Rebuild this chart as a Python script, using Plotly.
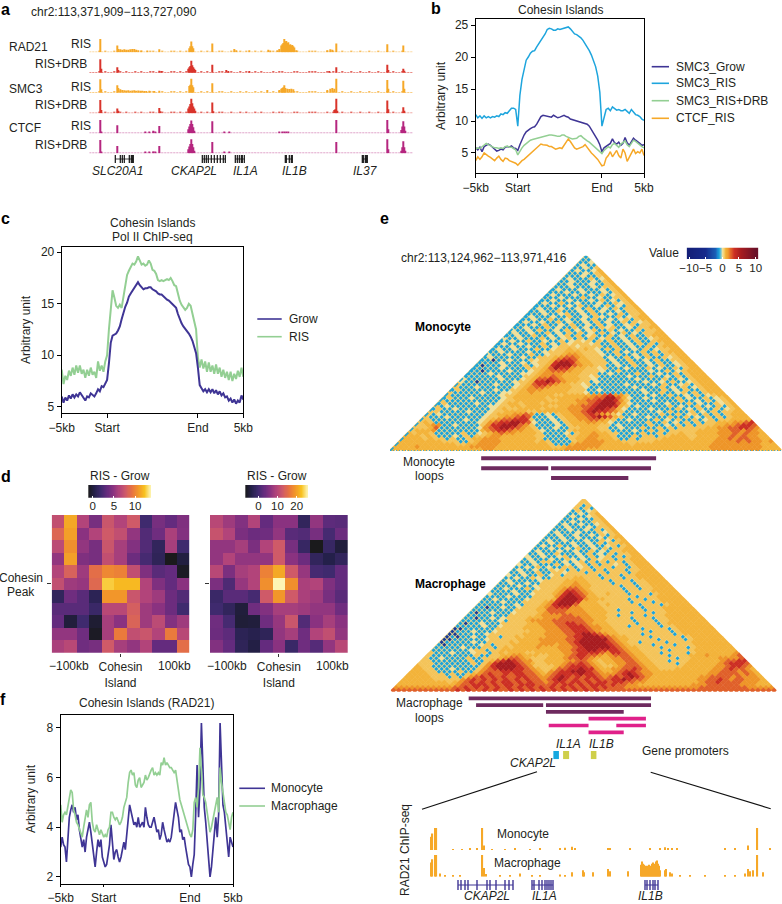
import numpy as np
import plotly.graph_objects as go

W, H = 782, 904
FONT = "Liberation Sans"
INK = "#231f20"
DARK = "#3f3595"
BLUE = "#1ea5dd"
GREEN = "#93cf93"
ORANGE = "#f6a828"
RED = "#d9342b"
MAGENTA = "#b5267f"

# ---------- panel b ----------
B_SMC3_GROW = [5.8,5.5,5.9,5.2,6.0,6.2,6.4,6.2,5.9,5.5,5.3,5.4,5.6,5.5,5.9,6.0,5.9,6.1,5.8,5.7,5.4,
 6.3,7.2,7.8,8.3,8.6,8.8,9.0,9.1,9.5,10.1,10.7,10.9,10.8,10.7,10.6,10.6,10.9,10.7,10.5,10.6,10.8,10.9,10.7,10.6,10.3,10.2,10.1,9.9,9.8,9.7,9.6,9.6,9.5,9.2,8.7,8.1,7.6,7.0,6.3,5.2,
 5.8,6.0,6.2,6.5,7.2,6.6,6.4,6.7,6.2,6.5,7.4,6.6,6.2,6.8,7.3,7.0,6.8,6.5,6.2,6.3]
B_SMC3_RIS = [11.0,10.5,10.8,10.4,10.8,10.5,10.7,10.5,10.7,10.6,10.8,10.7,11.1,11.0,11.3,11.2,11.6,12.0,12.0,11.8,9.2,
 14.0,16.5,18.2,19.5,20.0,20.6,20.9,21.0,21.6,22.1,22.5,22.9,23.6,24.3,24.5,24.4,24.2,24.2,24.4,24.3,24.4,24.4,24.5,24.7,24.4,23.9,23.6,23.5,23.3,23.0,22.6,22.1,21.7,21.0,20.3,19.5,18.5,17.0,14.5,9.2,
 10.5,11.8,12.0,11.6,12.2,12.0,11.7,11.8,11.6,11.6,11.8,11.5,11.2,11.8,11.4,11.0,10.9,10.7,10.3,10.1]
B_SMC3_DRB = [5.6,5.8,5.7,6.0,6.3,6.5,6.3,6.1,5.9,5.8,5.8,5.7,5.8,5.7,6.0,6.1,5.9,5.9,5.7,5.5,4.7,
 5.3,5.8,6.2,6.5,6.8,7.0,7.1,7.2,7.3,7.4,7.5,7.6,7.7,7.7,7.8,7.8,7.8,7.7,7.6,7.6,7.8,7.8,7.6,7.4,7.3,7.2,7.2,7.3,7.6,7.7,7.4,7.1,6.9,6.7,6.4,6.1,5.8,5.5,5.1,4.9,
 5.4,5.7,6.0,5.8,6.3,6.5,6.2,5.9,6.4,6.6,6.9,6.3,6.0,6.5,7.0,6.8,6.5,6.2,6.0,5.8]
B_CTCF_RIS = [3.8,4.4,4.0,4.4,5.0,4.7,4.5,4.3,4.0,3.8,4.2,4.5,4.0,3.7,4.2,4.1,3.8,3.7,3.6,3.4,3.1,
 3.5,3.8,4.0,4.3,4.6,4.9,5.2,5.5,5.8,6.1,6.4,6.3,6.3,6.2,6.0,6.0,5.8,5.6,5.7,5.8,5.7,6.2,6.9,7.2,6.8,6.3,5.8,5.6,5.7,5.9,6.0,6.3,5.8,5.4,5.0,4.7,4.4,4.0,3.5,3.0,
 3.1,4.2,4.6,5.2,4.4,5.0,5.4,4.6,4.2,5.6,5.0,3.7,4.4,5.0,5.6,4.9,5.2,5.0,5.6,4.6]

# ---------- panel c ----------
C_GROW = [6.0,5.4,5.9,5.6,6.1,5.8,6.2,5.9,6.2,6.0,6.4,6.1,5.8,5.6,6.0,5.9,6.3,6.1,6.0,6.3,6.7,6.5,7.0,6.9,7.3,
 7.6,9.2,11.2,11.9,12.0,12.1,12.4,12.8,13.5,14.2,14.7,15.1,15.7,16.0,16.3,16.5,16.9,17.1,16.8,16.6,16.4,16.5,16.5,16.6,16.6,16.4,16.3,16.2,16.0,15.9,15.9,15.7,15.6,15.4,15.3,15.1,14.9,14.8,14.6,14.0,13.5,13.1,12.8,12.6,12.4,12.1,11.8,11.4,10.8,10.2,8.8,7.1,
 6.8,6.5,6.7,6.4,6.7,6.4,6.7,6.3,6.6,6.2,6.5,6.1,6.3,5.9,6.0,5.6,5.8,5.4,5.7,5.3,5.6,5.4,6.1,5.7]
C_RIS = [8.6,7.2,8.0,7.6,8.5,8.0,8.8,8.1,9.0,8.3,9.0,8.2,8.6,7.8,8.6,8.0,8.8,8.1,8.4,7.8,9.4,8.5,9.0,8.4,9.4,
 10.0,12.5,14.5,16.3,15.6,14.8,14.6,14.9,14.6,15.6,16.7,17.8,18.2,18.6,18.9,18.8,19.1,19.6,19.2,18.8,18.9,18.7,18.8,19.2,18.9,18.3,18.2,17.9,17.3,17.2,17.3,17.2,17.3,17.4,17.3,17.5,17.2,16.8,16.7,16.0,15.3,14.9,14.7,14.4,14.6,15.0,14.8,14.0,13.5,12.5,9.8,8.8,
 9.6,8.7,9.4,8.4,9.3,8.4,9.0,8.2,9.1,8.2,8.8,7.9,8.6,7.8,8.4,7.6,8.4,7.5,8.2,7.7,8.5,7.9,8.8,7.9]

# ---------- panel f ----------
F_MONO = [3.2,3.6,3.3,3.2,2.6,3.5,4.4,4.7,4.9,4.6,4.8,4.3,4.5,3.9,3.6,3.2,3.5,3.0,3.6,3.9,4.2,3.8,3.3,3.0,2.4,3.0,3.5,3.2,3.5,2.8,2.6,2.4,2.5,2.9,3.3,4.1,3.5,2.7,3.0,3.1,2.8,2.6,2.8,3.1,3.4,3.1,3.9,4.3,4.9,4.6,4.3,4.1,4.2,4.0,4.4,4.0,4.1,4.2,4.0,4.8,4.4,4.1,4.0,
 4.0,4.2,4.4,4.1,3.8,3.9,3.5,3.7,4.2,3.9,3.6,3.4,3.5,3.4,3.6,4.0,4.6,5.0,4.7,4.4,3.8,3.9,3.5,3.6,3.2,2.8,2.5,2.4,2.0,2.5,2.9,4.5,6.5,4.4,5.6,8.2,6.0,4.8,4.2,3.5,2.7,2.0,2.4,3.2,3.9,4.4,3.6,4.5,8.2,6.5,4.9,4.6,3.9,3.3,2.8,3.6,3.4,3.2]
F_MACRO = [4.9,4.2,4.5,4.6,4.5,4.9,5.3,5.5,5.4,4.7,4.5,4.2,4.1,3.9,3.7,3.6,4.0,4.4,4.7,4.4,4.9,5.0,4.2,3.9,3.8,4.1,3.9,3.7,3.9,3.7,3.6,3.7,3.6,3.9,4.0,4.6,4.6,4.4,4.3,4.4,4.2,4.1,4.2,4.4,4.8,5.0,5.2,5.8,6.2,6.3,6.1,6.2,5.7,5.6,5.9,6.0,5.6,5.7,5.8,6.1,5.9,6.0,6.2,6.3,6.4,6.1,6.2,6.1,6.2,6.1,6.6,6.5,6.8,6.5,6.6,6.5,6.4,6.4,6.3,6.2,6.3,5.9,5.4,5.1,4.9,4.7,4.5,4.2,4.0,3.8,3.7,3.6,3.9,5.0,5.2,4.8,5.6,7.2,6.2,5.3,5.2,5.0,4.6,4.2,3.8,4.0,4.3,4.6,5.0,5.2,4.6,6.4,5.8,5.4,5.1,4.6,4.5,4.1,3.9,4.4,4.6]

# ---------- panel d ----------
D_LEFT = [
 [.55,.84,.50,.35,.58,.50,.60,.20,.35,.30,.37],
 [.65,.82,.40,.50,.60,.55,.42,.25,.33,.48,.38],
 [.53,.78,.42,.35,.58,.47,.38,.25,.15,.47,.20],
 [.42,.82,.37,.35,.55,.47,.32,.22,.14,.00,.08],
 [.50,.63,.45,.68,.76,.74,.55,.37,.27,.30,.02],
 [.55,.45,.43,.66,.92,.88,.88,.50,.37,.30,.40],
 [.15,.33,.27,.13,.80,.80,.58,.50,.45,.32,.25],
 [.27,.27,.27,.18,.52,.52,.62,.45,.40,.32,.20],
 [.30,.07,.20,.05,.47,.40,.64,.45,.53,.38,.45],
 [.42,.42,.33,.02,.47,.72,.55,.58,.50,.72,.52],
 [.48,.52,.33,.35,.60,.47,.42,.50,.30,.30,.68]]
D_RIGHT = [
 [.52,.45,.38,.50,.30,.40,.40,.15,.42,.28,.27],
 [.57,.50,.36,.32,.33,.42,.27,.25,.35,.22,.32],
 [.42,.42,.47,.36,.50,.60,.35,.17,.00,.17,.07],
 [.42,.50,.42,.42,.42,.60,.40,.32,.15,.10,.15],
 [.52,.36,.47,.50,.74,.84,.60,.43,.22,.20,.30],
 [.36,.24,.43,.50,.78,1.0,.78,.48,.50,.37,.30],
 [.18,.27,.27,.22,.60,.80,.60,.48,.45,.35,.27],
 [.20,.15,.07,.33,.38,.47,.47,.45,.42,.42,.33],
 [.33,.22,.06,.07,.33,.43,.58,.25,.40,.47,.40],
 [.32,.28,.13,.11,.14,.42,.47,.33,.50,.55,.42],
 [.38,.30,.14,.09,.30,.40,.18,.33,.26,.42,.52]]
D_SCALE = [[0,"#1a1a1c"],[.1,"#24204a"],[.2,"#3f2a6e"],[.3,"#642b7e"],[.4,"#8a3280"],[.5,"#b2447a"],
           [.6,"#cf5a68"],[.7,"#e87340"],[.8,"#f2962a"],[.9,"#f8c220"],[1,"#fdf5b5"]]

# ---------- panel e: contact maps, levels 0..9 per lattice cell, apex row first ----------
MONO_ROWS = ["1","11","113","1311","11314","131135","1113145","11131145","131114135","1131113145",
"1131113114 5","1113111314 45","1311131113 145","1113113111 3145","1311131131 41345","1113111411 311445",
"1131131113 1413145","1311411311 13114345","1113113141 131413145","1311131131 4113141445","1131141113 14131131445",
"1113113411 314113141445","1311131141 1314311413 455","1131141131 1314113134 1455","1311311413 1131413114 14345",
"1113141131 4113141311 341445","1131114131 1413114341 1314455","3113141131 4131341141 31141445","1311311413 1414131413 141314455",
"1131141131 3414134114 1314114555","3113111413 1341414134 1131411345 5","1131141131 1413434141 4113141145 55",
"1311311141 3143444341 1411314141 455","1113113114 1344434444 1141131141 4555","1311311141 1344544543 1414113141 34455",
"1131111311 3444555444 3114131141 414555","3111311141 1344566544 4311411314 1414455","1311111311 4445677654 4413114131 41143455",
"1101131114 3445788755 4441311411 314114455","1111311131 3445899865 5444131141 1314113455","1011131114 1345899976 5544113114 1131411345 5",
"1111131111 4445798865 5443411131 1141311414 55","1101111311 1345677765 5444311411 1113114134 555","1111311111 3345666655 5444113111 1411131141 4555",
"1111113111 1445667655 5443411111 3111411314 14555","3111111311 1345778765 5544311111 1131111411 314555","3110111111 3445889876 5544131111 1111311314 1134555",
"4111111311 1345788765 5443411111 1311113141 13414555","4111311111 1345677655 5544311111 1113111141 314134555","1411111131 1445666555 5544411311 1111131114 1314114555",
"4111113111 3345565555 5544431111 1111113114 1134141455 5","4111111111 3445555555 4455555667 8664111131 1411314134 55",
"1411131111 1345555554 5555556677 9975311311 1114131141 345","4111111111 1344555555 4455566778 9986411113 1111411314 1345",
"1411111311 1345545554 5555556678 9997531111 1131114131 14345","4131111111 3344554555 5445566778 9998541311 1114131141 314145",
"1411311111 1345445555 4555566678 9987531111 3111141314 1141345","4411111311 1344555544 5555556678 9887641111 1131411141 31414455",
"4131111111 1345556676 1131455667 8765431131 1114114134 141414555","4111311111 1344566787 1113145566 7898754111 1311141141 3141414555",
"4411111131 1345677888 4111314556 6776541131 1114131411 4134144555 5","4541111111 1346788998 7311131455 5665531111 1141141314 1414455566 78",
"4456611311 1146889997 6411113145 5555441311 1114113141 4144455667 887","4445711111 1136789987 6541113114 4555441131 1141141414 4444556677 8876",
"4555611111 1115678876 6554311114 5555544111 1311414144 4445555667 76765","5455411111 4113456766 5555411113 1455655441 1114114144 5445555666 767665",
"5554541113 1414456655 5555441111 4455665541 1141441445 5544555566 7676655","5555454414 1145566655 5555541111 1455665554 1141444455 5554555566 76776655",
"5555555544 4114566665 5555545411 1145666655 5444444555 5555555566 667676656","5555555555 5445566665 5555555541 1156666655 5554555555 5555555566 6666666555",
"5555655555 5555666665 5555555554 4566666655 5555555555 5555555566 6666666655 5","5555555555 5555555665 5555555555 5566665555 5555555555 5555555556 6666666655 55"]
MACRO_ROWS = ["4","44","414","4141","14134","113145","1311345","11131145","113111445","1311311345",
"1131113144 5","1113113141 45","1311131114 345","1131131131 4145","1113113111 31455","1311311131 143145",
"1131113113 1414455","1311411311 31134145","1113113141 131414455","1311131131 1413144555","1131141113 14131414455",
"3113113411 314134141455","1311131143 1314344144 555","1131441131 3414141441 4555","3113111413 1341414434 14555",
"1131413114 4134144414 414555","1311311434 1414414144 4144555","1131141144 3444144414 44145555","3113114134 1444444144 414455555",
"1131143114 4445544414 4414455555","1311111344 4455554444 1444144555 5","1131131144 4455655444 4144414455 55",
"1111311344 4455665544 4441441445 555","1131114134 4456776544 4444144144 5555","1111311144 4456887654 4444414444 55555",
"3111131134 4456898765 4454441444 145555","1111311114 4446899875 5444444414 4455555","1131111134 4445899986 5554444144 14455555",
"1111311144 4456899985 5544444414 441455555","1111111314 4456899975 5554544444 1444145555","1101131134 4456788866 5555444444 4144455555 5",
"1111111144 4455777766 6555544144 4414445555 55","1011311134 4445677766 6655554444 1444144555 555","1111111144 4445666677 6665554414 4441444555 5555",
"1101131344 4455566677 7766555444 4144414455 55555","1111111314 4456666777 7776655444 4414441445 555555","1011311144 4445566677 8877655544 4441444145 5555555",
"1111131134 4445556667 7888766554 4414444414 45555555","0011111144 4445555666 7788876655 4444414444 145555555","0111311134 4444455566 6778887655 5444444144 4145555555",
"0011111344 4444555566 6677899876 5544441444 4414555555 5","0101131144 1445455556 6667889998 7655444414 4444145555 55",
"0011111134 4444555566 6667789999 9765544444 1444414555 555","0111113114 4445455556 6666789999 9876544144 4414444555 5555",
"1011111134 1444555556 6656678999 9987654444 1444144455 55555","1111131114 4145455556 5556667899 9998765544 4414444145 555555",
"1111111344 1445555555 5555667889 9888876554 4444144445 5555555","4111311134 4145455544 5555566788 8876887655 4441444414 55555556",
"4111111114 1144556655 5445556788 7765677765 5444414445 556555567","4113111141 1444567765 4445556778 7655566776 5544444144 5555566667",
"4411111114 1145789876 6445555667 7654556677 6554441444 5555556778 8","4441111111 4146899987 6544555677 8765455667 7655444414 5555556788 87",
"5441111111 1146899998 7644445678 8876544567 7765544444 5555556678 876","5544111311 1146789998 8765445778 8988655667 7876554445 5555556678 7765",
"5554411114 1146777888 8776546788 9998765567 8876655555 5555556677 76765","5555444141 1456787787 8877656788 8898876667 8987665555 5555556677 776765",
"5555544414 1467878787 7887766789 8787887678 7898765555 5555566777 7676665","5555554444 4678787878 7878776789 8787878778 8987765555 5555566778 76776665",
"5555555554 5678787878 8787877678 8788787887 8877665555 5555556778 777766655","5555555555 5677888787 8878887778 7887878887 8776655555 5555566677 7777666555",
"6666666666 6778787878 7878787878 7878787878 7776666666 6666666777 7777776666 6","7777777777 7787877878 7787878787 8787878787 7777777777 7777777777 7777777777 77"]
LEVEL_VALUES = [-4, -1, -.3, 0, .7, 1, 1.8, 2.6, 3.6, 5.5]
PALE_UNDER_SPECK = .25
E_STOPS = [(-10,"#141f78"),(-5,"#162a8c"),(-2,"#1a5fb8"),(-1,"#1ba3dd"),(-.3,"#7fc8cf"),(0,"#f0e09c"),(.5,"#f5d070"),
           (1,"#f3b33a"),(1.8,"#ee9528"),(2.6,"#e0602a"),(3.6,"#cc2f24"),(5.5,"#a81c20"),(10,"#6a1028")]
E_SCALE = [[(v+10)/20, c] for v, c in E_STOPS]

# loops (kb from window start): start, end, row
MONO_LOOP_START = [197,197,348,348]
MONO_LOOP_END   = [575,342,564,515]
MONO_LOOP_ROW   = [0,1,1,2]
MACRO_LOOP_START = [170,186,337,337]
MACRO_LOOP_END   = [564,331,564,505]
MACRO_LOOP_ROW   = [0,1,1,2]
MACRO_PINK_START = [429,343,489,429]
MACRO_PINK_END   = [553,429,553,505]
MACRO_PINK_ROW   = [3,4,4,5]
PROMOTER_START = [353,374,434]
PROMOTER_END   = [365,387,446]
PROMOTER_COLOR = ["#16a8e0","#cfcf4a","#cfcf4a"]

# ---------- panel a tracks: position (bin), height ----------
BG_COHESIN = [.03,.05,.02,.06,.03,.08,.04,.03,.07,.05,.06,.04,.08,.05,.03,.06,.04,.07,.05,.03,.06,.08,.05,.04,.07,.03,.05,.09,.06,.04,.07,.03,.06,.05,.08,.04,.03,.06,.05,.07,.04,.03,.05,.08,.06,.03,.04,.07,.05,.03,.06,.04,.08,.05,.03,.07,.04,.06,.03,.05,.04,.07,.03,.06,.08,.04,.05,.03,.07,.06,.04,.03,.05,.08,.06,.09,.04,.05,.03,.07,.04,.06,.03,.05,.07,.04,.03,.06,.05,.04,.07,.03,.05,.06,.04,.03,.07,.05,.04,.06,.03,.08,.05,.04,.06,.03,.05,.04]
BG_CTCF = [.02,.03,.01,.03,.02,.04,.02,.01,.03,.02,.03,.02,.03,.02,.01,.03,.02,.04,.03,.02,.05,.06,.05,.03,.02,.01,.02,.03,.02,.01,.02,.01,.03,.02,.01,.02,.01,.03,.02,.01,.02,.01,.02,.01,.02,.01,.01,.02,.01,.02,.01,.02,.01,.01,.02,.01,.02,.01,.02,.01,.01,.03,.02,.03,.02,.03,.04,.02,.03,.02,.03,.02,.01,.02,.03,.04,.02,.03,.02,.03,.02,.03,.02,.03,.02,.02,.03,.02,.03,.02,.02,.03,.02,.03,.02,.03,.02,.02,.03,.02,.03,.02,.03,.02,.02,.02,.02,.02]
BG_POS = list(range(1, 324, 3))

A1_POS = [11,28,29,31,33,35,37,39,41,43,45,47,49,52,58,70,100,101,102,103,104,123,145,147,160,179,181,188,190,192,193,194,195,196,197,198,199,200,201,202,203,204,205,207,238,241,243,247,298,314]
A1_H   = [1.0,.5,.25,.22,.2,.22,.2,.2,.22,.24,.25,.2,.15,.1,.1,.22,.3,.45,.8,.45,.3,.65,.25,.15,.15,.2,.12,.15,.25,.5,.6,.7,1.0,.8,.85,.7,.75,.55,.6,.5,.55,.45,.35,.15,.15,.22,.2,.65,.6,.5]
A2_POS = [11,12,28,29,70,72,99,100,101,102,103,104,105,106,123,137,139,160,240,247,298,299,314,315]
A2_H   = [1.0,.3,.4,.2,.15,.12,.3,.4,.5,.9,.55,.4,.3,.2,.6,.2,.1,.08,.1,.4,.6,.2,.3,.15]
A3_POS = [11,12,28,29,31,33,35,37,39,41,43,45,47,49,51,53,55,57,60,65,70,100,101,102,103,104,123,178,190,192,193,194,195,196,198,200,202,204,238,241,243,245,247,298,299,314,315]
A3_H   = [1.0,.25,.55,.35,.25,.2,.18,.16,.18,.15,.16,.18,.15,.17,.14,.15,.13,.12,.14,.12,.15,.5,.6,1.05,.55,.4,.7,.2,.2,.3,.35,.4,.55,.35,.3,.28,.3,.25,.2,.3,.35,.3,1.05,.95,.3,.9,.3]
A4_POS = [11,12,28,29,70,71,99,100,101,102,103,104,105,106,123,124,245,246,247,248,298,299,314,315]
A4_H   = [1.0,.25,.35,.2,.4,.15,.35,.5,.7,1.1,.75,.5,.35,.2,.8,.15,.25,.3,1.1,.2,.95,.3,.45,.2]
A5_POS = [11,12,28,56,60,64,66,70,99,100,101,102,103,104,105,123,135,140,190,193,195,197,199,247,298,299,312,313,314,315,316]
A5_H   = [1.0,.1,.6,.08,.1,.2,.12,.55,.3,.5,.7,.95,.7,.45,.2,.9,.12,.08,.06,.09,.1,.09,.06,1.0,1.0,.3,.25,.5,.9,.5,.2]
A6_POS = [11,12,28,56,60,64,66,70,99,100,101,102,103,104,105,123,135,140,247,298,299,312,313,314,315,316]
A6_H   = [1.0,.1,.55,.08,.08,.1,.1,.55,.3,.5,.7,1.05,.7,.45,.2,.85,.12,.08,.85,1.05,.3,.2,.45,.9,.45,.2]

A_GENE_NAMES = ["SLC20A1","CKAP2L","IL1A","IL1B","IL37"]
A_GENE_EXONS = [[26,31,33,35,40,42,43,44],[113,115,117,119,122,125,128,131,134,136],[146,148,150,152,153,155],[196,197,200,202,203],[273,274,276,277,278]]

# panel e ChIP tracks
E_MONO_POS = [16.5,17.5,20.5,21.5,38,47,55,62,67.5,69,77,90,100,115,125,145,150,157,160,193,195,215,235,245,250,253,257,262,310,320,333,342.5,355]
E_MONO_H   = [.6,.75,1,1,.04,.04,.05,.05,1,.2,.04,.04,.05,.04,.05,.05,.1,.15,.08,.06,.06,.05,.05,.08,.13,.08,.08,.05,.05,.05,.2,1,.05]
E_MACRO_POS = [16.5,17.5,20.5,21.5,25,30,38,45,67.5,69,71,85,95,105,117,125,145,150,157,168,169,178,193,195,213,226,227,228,229,230,231,232,233,234,235,236,237,238,239,240,241,242,243,244,245,250,251,255,257,265,275,290,310,320,330,333,335,338,342.5,348]
E_MACRO_H   = [.65,.8,1,1,.15,.05,.05,.08,1,.4,.12,.05,.05,.15,.05,.08,.1,.08,.2,.3,.2,.2,.35,.25,.25,.55,.7,.6,.55,.5,.45,.5,.45,.55,.5,.45,.6,.65,.55,.6,.7,.75,.6,.5,.3,.3,.35,.2,.15,.05,.06,.05,.06,.08,.15,.35,.25,.3,1,.2]
E_GENE_EXONS = [[43,46,50,53,62,72,75,81,90,94,98],[117,119,124,127,130,132,134,136,138],[230,232,235,238,240,243]]

# ---------- figure helpers ----------
traces, annots, shapes, layout_axes = [], [], [], {}
next_axis = [2]

def axes(l, r, t, b, xr, yr, xopts=None, yopts=None):
    n = next_axis[0]; next_axis[0] += 1
    base = dict(visible=False, fixedrange=True, automargin=False)
    xo = dict(base, domain=[l/W, r/W], range=xr, anchor=f"y{n}"); xo.update(xopts or {})
    yo = dict(base, domain=[1-b/H, 1-t/H], range=yr, anchor=f"x{n}"); yo.update(yopts or {})
    layout_axes[f"xaxis{n}"] = xo
    layout_axes[f"yaxis{n}"] = yo
    return dict(xaxis=f"x{n}", yaxis=f"y{n}")

def note(x, y, text, anchor="center", size=12, angle=0, color=INK):
    annots.append(dict(x=x/W, y=1-y/H, xref="paper", yref="paper", text=text, showarrow=False, xanchor=anchor,
                       yanchor="middle", font=dict(size=size, color=color, family=FONT), textangle=angle, align="center"))

def box_axis(vals, text, **kw):
    d = dict(visible=True, showline=True, linecolor="#000", linewidth=1, mirror=True, ticks="outside", ticklen=4, tickwidth=1,
             tickcolor="#000", showgrid=False, zeroline=False, tickvals=vals, ticktext=text, tickfont=dict(size=12, color=INK, family=FONT))
    d.update(kw)
    return d

def legend_row(x0, x1, tx, y, color, text):
    shapes.append(dict(type="line", xref="paper", yref="paper", x0=x0/W, x1=x1/W, y0=1-y/H, y1=1-y/H, line=dict(color=color, width=1.6)))
    note(tx, y, text, anchor="left")

XT = [-5, -2.5, 2.5, 5]
XL = ["−5kb", "Start", "End", "5kb"]

def line(ax, vals, color, width=1.5):
    traces.append(go.Scatter(x=np.linspace(-5, 5, len(vals)), y=vals, mode="lines", line=dict(color=color, width=width), hoverinfo="skip", **ax))

# panel letters
for x, y, t in [(5,9,"a"),(436,8,"b"),(5,218,"c"),(6,477,"d"),(384,218,"e"),(3,699,"f")]:
    note(x, y, f"<b>{t}</b>", size=16, color="#000")

# ---------- panel a ----------
TRACKS = [(A1_POS,A1_H,52.3,ORANGE,BG_COHESIN),(A2_POS,A2_H,72.7,RED,BG_COHESIN),(A3_POS,A3_H,92.7,ORANGE,BG_COHESIN),
          (A4_POS,A4_H,113.3,RED,BG_COHESIN),(A5_POS,A5_H,133.3,MAGENTA,BG_CTCF),(A6_POS,A6_H,153.3,MAGENTA,BG_CTCF)]
for pos, h, base_y, col, bg in TRACKS:
    ax = axes(89.3, 413.3, base_y-14.7, base_y, [0,324], [0,1.1])
    traces.append(go.Bar(x=BG_POS, y=bg, width=2.2, marker=dict(color=col, line=dict(width=0)), opacity=.75, hoverinfo="skip", **ax))
    traces.append(go.Bar(x=pos, y=h, width=1.3, marker=dict(color=col, line=dict(width=0)), hoverinfo="skip", **ax))
ax = axes(89.3, 413.3, 155, 163, [0,324], [0,1])
for ex in A_GENE_EXONS:
    traces.append(go.Scatter(x=[ex[0], ex[-1]], y=[.5,.5], mode="lines", line=dict(color="#111", width=.8), hoverinfo="skip", **ax))
    traces.append(go.Scatter(x=ex, y=[.5]*len(ex), mode="markers", marker=dict(symbol="line-ns", size=7, line=dict(color="#111", width=1.2)), hoverinfo="skip", **ax))
note(29.3, 12.3, "chr2:113,371,909−113,727,090", anchor="left")
for x, y, t, a in [(7.3,47.5,"RAD21","left"),(93,44,"RIS","right"),(89,64,"RIS+DRB","right"),(7.3,89,"SMC3","left"),(93,87,"RIS","right"),
                   (89,105,"RIS+DRB","right"),(7.3,128,"CTCF","left"),(93,126,"RIS","right"),(89,145,"RIS+DRB","right")]:
    note(x, y, t, anchor=a)
for x, t in zip([118,194,246,294,365], A_GENE_NAMES):
    note(x, 171, f"<i>{t}</i>")

# ---------- panel b ----------
ax = axes(475.7, 644, 19, 172.7, [-5,5], [1.92,25.94], box_axis(XT,XL), box_axis([5,10,15,20,25],["5","10","15","20","25"]))
line(ax, B_SMC3_RIS, BLUE); line(ax, B_SMC3_GROW, DARK); line(ax, B_SMC3_DRB, GREEN); line(ax, B_CTCF_RIS, ORANGE)
note(560, 9.7, "Cohesin Islands")
note(441, 96, "Arbitrary unit", angle=-90)
legend_row(651.7,669,674,66.7,DARK,"SMC3_Grow"); legend_row(651.7,669,674,83.3,BLUE,"SMC3_RIS")
legend_row(651.7,669,674,100.7,GREEN,"SMC3_RIS+DRB"); legend_row(651.7,669,674,118.3,ORANGE,"CTCF_RIS")

# ---------- panel c ----------
ax = axes(61.7, 243.3, 246.7, 412.7, [-5,5], [4.42,20.54], box_axis(XT,XL), box_axis([5,10,15,20],["5","10","15","20"]))
line(ax, C_RIS, GREEN, 2); line(ax, C_GROW, DARK, 2)
note(152.7, 223.3, "Cohesin Islands"); note(152.7, 237.3, "Pol II ChIP-seq")
note(26, 330, "Arbitrary unit", angle=-90)
legend_row(257.3,281.7,286.7,319,DARK,"Grow"); legend_row(257.3,281.7,286.7,336.7,GREEN,"RIS")

# ---------- panel d ----------
for l, r, z, cb_l, cb_r, cb_range, cb_ticks in [
        (51.7,189.3,D_LEFT,88.3,151,[-1.04,13.75],[0,5,10]),
        (210,347.7,D_RIGHT,245.3,308,[-6.8,25.9],[0,10,20])]:
    ax = axes(l, r, 515, 652.7, [-.5,10.5], [10.5,-.5],
              dict(visible=True, showline=False, ticks="outside", ticklen=3, tickcolor="#333", tickvals=[5], ticktext=["Cohesin<br>Island"], showgrid=False, zeroline=False, tickfont=dict(size=12,color=INK,family=FONT)),
              dict(visible=True, showline=False, ticks="outside", ticklen=4, tickcolor="#333", tickvals=[5], ticktext=[""], showgrid=False, zeroline=False))
    traces.append(go.Heatmap(z=z, colorscale=D_SCALE, zmin=0, zmax=1, showscale=False, hoverinfo="skip", **ax))
    ramp = np.linspace(cb_range[0], cb_range[1], 120)
    ax = axes(cb_l, cb_r, 485, 497.7, cb_range, [0,1],
              dict(visible=True, showline=False, ticks="inside", ticklen=2, tickcolor="#fff", tickvals=cb_ticks, ticktext=[str(v) for v in cb_ticks], tickangle=0, showgrid=False, zeroline=False, tickfont=dict(size=11.5,color=INK,family=FONT)))
    traces.append(go.Heatmap(x=ramp, y=[0,1], z=[np.linspace(0,1,120).tolist()]*2, colorscale=D_SCALE, zmin=0, zmax=1, showscale=False, hoverinfo="skip", **ax))
    note((cb_l+cb_r)/2, 475.5, "RIS - Grow")
    note(l+17.3, 665.5, "−100kb"); note(l+122.3, 665.5, "100kb")
note(21, 578, "Cohesin"); note(21, 592, "Peak")

# ---------- panel e ----------
def triangle(rows, l, r, top, base):
    n = len(rows)
    xs, ys, vs, sx, sy, sv = [], [], [], [], [], []
    for i, row in enumerate(rows):
        lvl = n-1-i
        want = n-lvl
        s = row.replace(" ", "")
        s = (s + s[-1]*want)[:want]
        for c, ch in enumerate(s):
            d = int(ch)
            x, y = c + .5 + lvl/2, lvl + .5
            xs.append(x); ys.append(y)
            if d < 2:
                vs.append(PALE_UNDER_SPECK); sx.append(x); sy.append(y); sv.append(LEVEL_VALUES[d])
            else:
                vs.append(LEVEL_VALUES[d])
    ax = axes(l, r, top, base, [0,n], [0,n])
    cell = (r-l)/n/1.3
    traces.append(go.Scatter(x=xs, y=ys, mode="markers", hoverinfo="skip",
                             marker=dict(symbol="diamond", size=cell*1.1, color=vs, colorscale=E_SCALE, cmin=-10, cmax=10, line=dict(width=0)), **ax))
    traces.append(go.Scatter(x=sx, y=sy, mode="markers", hoverinfo="skip",
                             marker=dict(symbol="diamond", size=cell*.78, color=sv, colorscale=E_SCALE, cmin=-10, cmax=10, line=dict(width=0)), **ax))
    return ax

tm = triangle(MONO_ROWS, 390, 781.7, 255.7, 451)
traces.append(go.Scatter(x=[0,72], y=[0,0], mode="lines", line=dict(color=BLUE, width=1.6, dash="1px,2px"), cliponaxis=False, hoverinfo="skip", **tm))
traces.append(go.Scatter(x=[0,30], y=[0,60], mode="lines", line=dict(color=BLUE, width=1.6, dash="5px,2px"), cliponaxis=False, hoverinfo="skip", **tm))
tm2 = triangle(MACRO_ROWS, 390.7, 776.7, 499, 691.7)

ramp = np.linspace(-10.7, 10.8, 200)
ax = axes(686.7, 758.3, 247.7, 259, [-10.7,10.8], [0,1],
          dict(visible=True, showline=False, ticks="inside", ticklen=2, tickcolor="#fff", tickvals=[-10,-5,0,5,10], ticktext=["−10","−5","0","5","10"], tickangle=0, showgrid=False, zeroline=False, tickfont=dict(size=11.5,color=INK,family=FONT)))
traces.append(go.Heatmap(x=ramp, y=[0,1], z=[ramp.tolist()]*2, colorscale=E_SCALE, zmin=-10, zmax=10, showscale=False, hoverinfo="skip", **ax))
note(680.7, 253.3, "Value", anchor="right")
note(399.3, 257.7, "chr2:113,124,962−113,971,416", anchor="left")
note(413.3, 327.3, "<b>Monocyte</b>", anchor="left", color="#000")
note(413.3, 584, "<b>Macrophage</b>", anchor="left", color="#000")
note(429.3, 462, "Monocyte"); note(429.3, 476, "loops")
note(429.3, 703.3, "Macrophage"); note(429.3, 717.7, "loops")

PURPLE = "#6e2a5f"; PINK = "#e0218a"
def loops(start, end, row, color, ax, w):
    traces.append(go.Bar(y=row, x=[e-s for s, e in zip(start, end)], base=start, orientation="h", width=w,
                         marker=dict(color=color, line=dict(width=0)), hoverinfo="skip", **ax))
KB_RANGE = [0, 847]
ax = axes(390, 782, 453.4, 483, KB_RANGE, [2.5,-.5])
loops(MONO_LOOP_START, MONO_LOOP_END, MONO_LOOP_ROW, PURPLE, ax, .4)
ax = axes(390, 782, 694.9, 735.7, KB_RANGE, [5.5,-.5])
loops(MACRO_LOOP_START, MACRO_LOOP_END, MACRO_LOOP_ROW, PURPLE, ax, .55)
loops(MACRO_PINK_START, MACRO_PINK_END, MACRO_PINK_ROW, PINK, ax, .55)
ax = axes(390, 782, 751, 759.3, KB_RANGE, [0,1])
traces.append(go.Bar(y=[.5]*3, x=[e-s for s, e in zip(PROMOTER_START, PROMOTER_END)], base=PROMOTER_START, orientation="h", width=1,
                     marker=dict(color=PROMOTER_COLOR, line=dict(width=0)), hoverinfo="skip", **ax))
note(568.3, 744, "<i>IL1A</i>"); note(601.7, 744, "<i>IL1B</i>"); note(533, 763, "<i>CKAP2L</i>")
note(685.7, 751, "Gene promoters")
for x0, y0, x1, y1 in [(422,809.3,537,771.7),(650.7,772.3,770.7,808.7)]:
    shapes.append(dict(type="line", xref="paper", yref="paper", x0=x0/W, x1=x1/W, y0=1-y0/H, y1=1-y1/H, line=dict(color="#111", width=1.2)))

ax = axes(415, 772, 828, 850, [0,357], [0,1])
traces.append(go.Bar(x=E_MONO_POS, y=E_MONO_H, width=1.2, marker=dict(color=ORANGE, line=dict(width=0)), hoverinfo="skip", **ax))
ax = axes(415, 772, 855, 876.7, [0,357], [0,1])
traces.append(go.Bar(x=E_MACRO_POS, y=E_MACRO_H, width=1.2, marker=dict(color=ORANGE, line=dict(width=0)), hoverinfo="skip", **ax))
ax = axes(415, 772, 880, 890, [0,357], [0,1])
for ex in E_GENE_EXONS:
    traces.append(go.Scatter(x=[ex[0], ex[-1]], y=[.5,.5], mode="lines", line=dict(color=DARK, width=1), hoverinfo="skip", **ax))
    traces.append(go.Scatter(x=ex, y=[.5]*len(ex), mode="markers", marker=dict(symbol="line-ns", size=8, line=dict(color=DARK, width=1.4)), hoverinfo="skip", **ax))
note(523, 834, "Monocyte"); note(527, 862.7, "Macrophage")
note(405, 850, "RAD21 ChIP-seq", angle=-90)
note(487.3, 896, "<i>CKAP2L</i>"); note(544, 896, "<i>IL1A</i>"); note(650.7, 896, "<i>IL1B</i>")

# ---------- panel f ----------
ax = axes(60.7, 233, 715, 884.3, [-5,5], [1.7,8.52], box_axis(XT,XL,ticklen=2), box_axis([2,4,6,8],["2","4","6","8"]))
line(ax, F_MONO, DARK, 1.7); line(ax, F_MACRO, GREEN, 1.7)
note(146.7, 703.3, "Cohesin Islands (RAD21)")
note(31, 799, "Arbitrary unit", angle=-90)
legend_row(239.3,265,269,788.3,DARK,"Monocyte"); legend_row(239.3,265,269,806,GREEN,"Macrophage")

fig = go.Figure(traces)
fig.update_layout(width=W, height=H, margin=dict(l=0,r=0,t=0,b=0,autoexpand=False), paper_bgcolor="#fff", plot_bgcolor="rgba(0,0,0,0)",
                  showlegend=False, barmode="overlay", annotations=annots, shapes=shapes,
                  font=dict(family=FONT, color=INK, size=12), **layout_axes)
fig.write_html("out.html", post_script="document.body.style.margin='0';", config=dict(displayModeBar=False))
